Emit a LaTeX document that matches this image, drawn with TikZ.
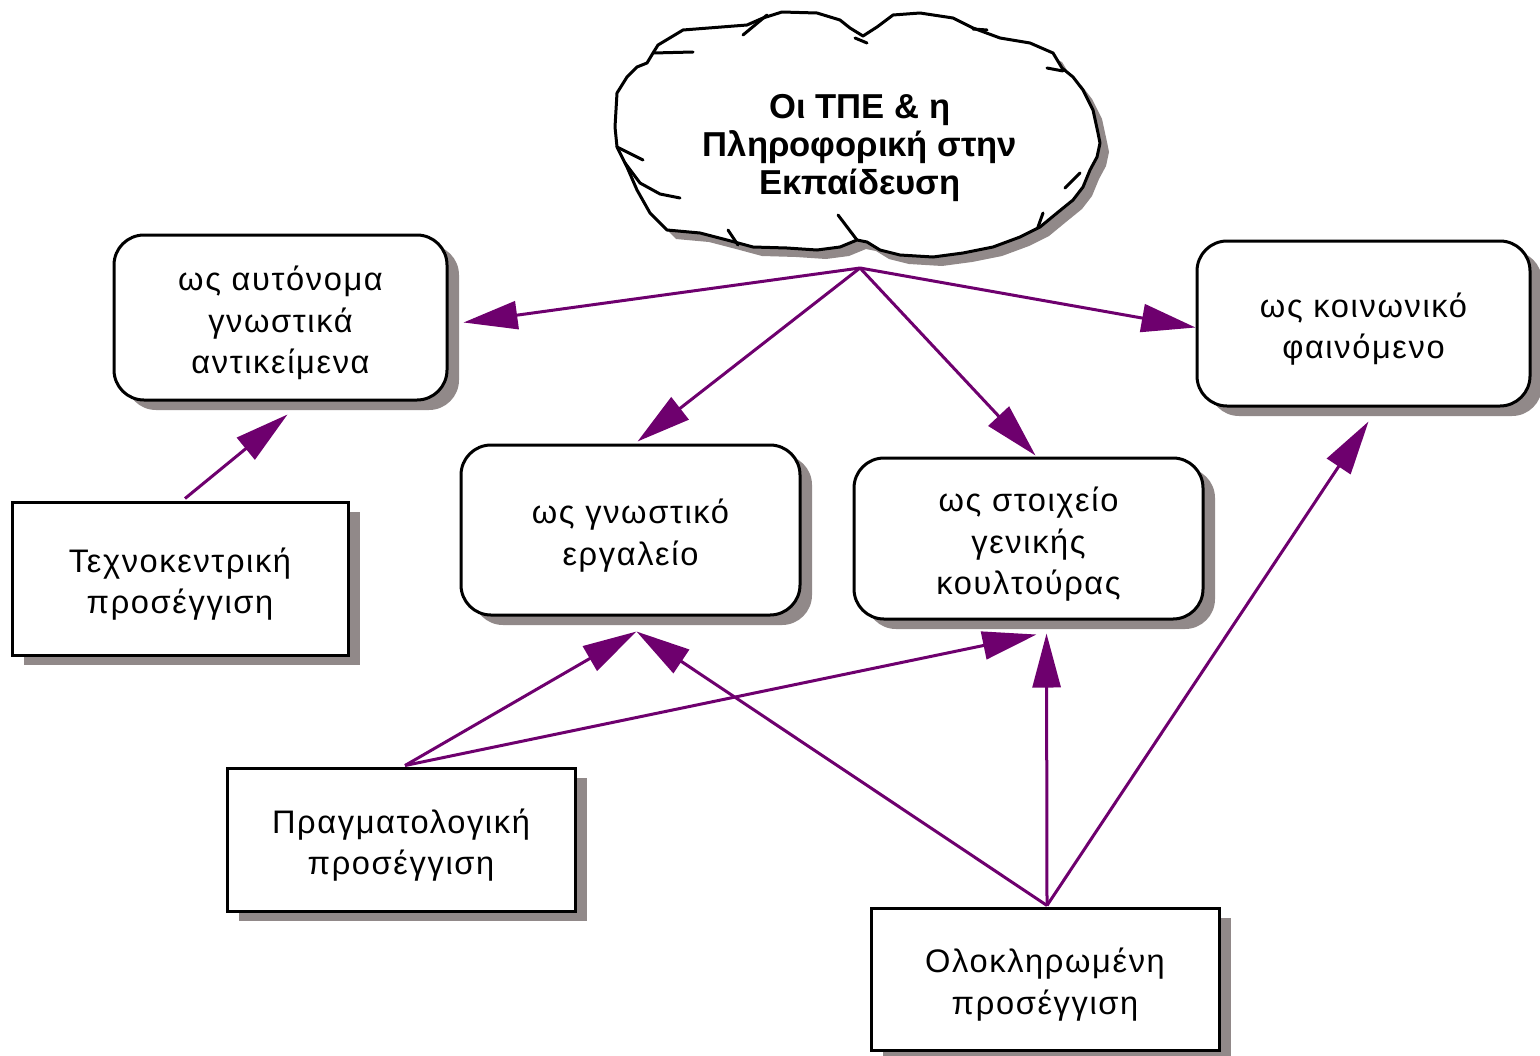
\documentclass[tikz,border=0pt]{standalone}
\usepackage{fontspec}
\setmainfont{Liberation Sans}
\newfontfamily\boxfont[LetterSpace=5]{Liberation Sans}
\usetikzlibrary{arrows.meta,calc,shadows}
\definecolor{arrowpurple}{RGB}{110,0,110}
\definecolor{shadowgray}{RGB}{145,137,137}
\newcommand\boxlift{\rule{0pt}{18pt}}
\begin{document}
\begin{tikzpicture}[x=0.5pt,y=-0.5pt,
  basebox/.style={draw=black, line width=1.5pt, fill=white, align=center,
    font=\boxfont\fontsize{16.3}{20.8}\selectfont, inner sep=0pt,
    general shadow={fill=shadowgray, shadow xshift=6pt, shadow yshift=-5pt}},
  roundbox/.style={basebox, rounded corners=15pt},
  sqbox/.style={basebox},
  link/.style={draw=arrowpurple, line width=1.5pt, -{Triangle[length=27pt,width=14pt]}},
  cloudline/.style={draw=black, line width=1.5pt, line join=round, line cap=round}
]
\useasboundingbox (0,0) rectangle (1540,1055);

% cloud
\def\cloudpath{(653,53) -- (658,45) -- (683,30) -- (747,25) -- (763,18) -- (782,12) -- (817,13) -- (840,20) -- (850,28) -- (863,36) -- (877,27) -- (893,15) -- (920,13) -- (953,18) -- (973,28) -- (1000,38) -- (1030,43) -- (1053,53) -- (1062,68) -- (1073,77) -- (1083,90) -- (1093,110) -- (1098,133) -- (1100,143) -- (1097,157) -- (1090,170) -- (1083,187) -- (1073,200) -- (1057,213) -- (1040,227) -- (1020,237) -- (993,247) -- (963,253) -- (933,257) -- (900,255) -- (880,250) -- (867,242) -- (857,240) -- (840,247) -- (817,250) -- (787,248) -- (753,247) -- (727,240) -- (700,233) -- (667,230) -- (650,213) -- (637,190) -- (627,167) -- (617,147) -- (615,127) -- (617,93) -- (627,77) -- (637,67) -- (647,63) -- cycle}
\fill[shadowgray, shift={(9,9)}] \cloudpath;
\path[cloudline, fill=white] \cloudpath;
\draw[cloudline] (743,35) -- (767,15);
\draw[cloudline] (855,38) -- (867,43);
\draw[cloudline] (653,53) -- (693,52);
\draw[cloudline] (973,29) -- (987,30);
\draw[cloudline] (1047,68) -- (1063,71);
\draw[cloudline] (617,147) -- (643,160);
\draw[cloudline] (625,163) -- (640,183) -- (660,194) -- (680,198);
\draw[cloudline] (728,230) -- (738,245);
\draw[cloudline] (838,215) -- (857,240);
\draw[cloudline] (1043,213) -- (1038,227);
\draw[cloudline] (1065,188) -- (1080,173);
\node[align=center, font=\bfseries\fontsize{17.3}{19}\selectfont] (cloud) at (860,148)
  {Οι ΤΠΕ \& η\\Πληροφορική στην\\Εκπαίδευση};
\coordinate (ct) at (860,268);

% boxes
\node[roundbox, minimum width=166.5pt, minimum height=82.5pt] (auto) at (280.5,317.5)
  {\boxlift ως αυτόνομα\\γνωστικά\\αντικείμενα};
\node[roundbox, minimum width=169.5pt, minimum height=85pt] (tool) at (630.5,530)
  {\boxlift ως γνωστικό\\εργαλείο};
\node[roundbox, minimum width=174.5pt, minimum height=80.5pt] (cult) at (1028.5,538.5)
  {\boxlift ως στοιχείο\\γενικής\\κουλτούρας};
\node[roundbox, minimum width=166.5pt, minimum height=82.5pt] (soc) at (1363.5,323.5)
  {\boxlift ως κοινωνικό\\φαινόμενο};
\node[sqbox, minimum width=168pt, minimum height=76.5pt] (techno) at (180,578.5)
  {\boxlift Τεχνοκεντρική\\προσέγγιση};
\node[sqbox, minimum width=174pt, minimum height=71.5pt] (prag) at (401,839.5)
  {\boxlift Πραγματολογική\\προσέγγιση};
\node[sqbox, minimum width=174pt, minimum height=71pt] (integ) at (1045,979)
  {\boxlift Ολοκληρωμένη\\προσέγγιση};

% connectors
\draw[link] (ct) -- ($(auto.east)+(15,5)$);
\draw[link] (ct) -- ($(tool.north)+(7,-2)$);
\draw[link] (ct) -- ($(cult.north)+(7,-1)$);
\draw[link] (ct) -- ($(soc.west)+(0,4)$);
\draw[link] ($(techno.north)+(5,-2)$) -- ($(auto.south)+(7,13)$);
\draw[link] ($(prag.north)+(4,-1)$) -- ($(tool.south)+(6,15)$);
\draw[link] ($(prag.north)+(4,-1)$) -- ($(cult.south)+(8,14)$);
\draw[link] ($(integ.north)+(2,-1)$) -- ($(tool.south)+(6,15)$);
\draw[link] ($(integ.north)+(2,-1)$) -- ($(cult.south)+(18,13)$);
\draw[link] ($(integ.north)+(2,-1)$) -- ($(soc.south)+(5,14)$);
\end{tikzpicture}
\end{document}
